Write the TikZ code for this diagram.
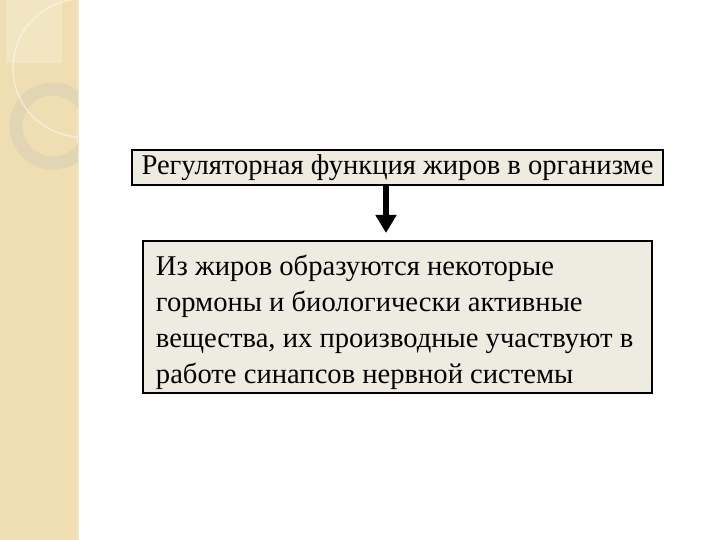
\documentclass[tikz,border=0pt]{standalone}
\usepackage{xcolor}
\usepackage{fontspec}
\setmainfont{Liberation Serif}
\usepackage{tikz}
\usetikzlibrary{arrows.meta}

\definecolor{bandcol}{RGB}{238,222,178}
\definecolor{bandlight}{RGB}{242,229,194}
\definecolor{ringcol}{RGB}{214,205,180}
\definecolor{boxfill}{RGB}{238,236,225}

\tikzset{
  titlebox/.style={draw=black, line width=2bp, fill=boxfill, minimum width=531bp,
    minimum height=35bp, inner sep=0pt, font=\fontsize{28.6bp}{33bp}\selectfont},
  textbox/.style={draw=black, line width=2bp, fill=boxfill, minimum width=509bp,
    minimum height=152bp, text width=483bp, align=flush left, inner sep=0pt,
    text height=31bp, font=\fontsize{28.6bp}{36bp}\selectfont},
  downarrow/.style={line width=6bp, -{Triangle[width=20bp,length=18bp]}, shorten >=7bp}
}

\begin{document}
\begin{tikzpicture}[x=1bp,y=-1bp]
             \useasboundingbox (0,0) rectangle (720,540);
             % left band
             \fill[bandcol] (0,0) rectangle (77,540);
             \fill[bandlight] (77,0) rectangle (79,540);
             \fill[bandlight] (6,0) rectangle (62,63);
             \begin{scope}
               \clip (0,0) rectangle (78,540);
               \draw[ringcol, line width=13bp, opacity=.5] (53,126) circle (37);
               \draw[white, line width=1.5bp, opacity=.45] (82,68) circle (69);
             \end{scope}

             \node[titlebox] (title) at (397.5,167.5) {Регуляторная функция жиров в организме};
             \node[textbox] (body) at (397.5,317) {Из жиров образуются некоторые\\
               гормоны и биологически активные\\
               вещества, их производные участвуют в\\
               работе синапсов нервной системы};

             \draw[downarrow] ([xshift=-11.5bp]title.south) -- ([xshift=-11.5bp]body.north);
             \end{tikzpicture}
\end{document}
